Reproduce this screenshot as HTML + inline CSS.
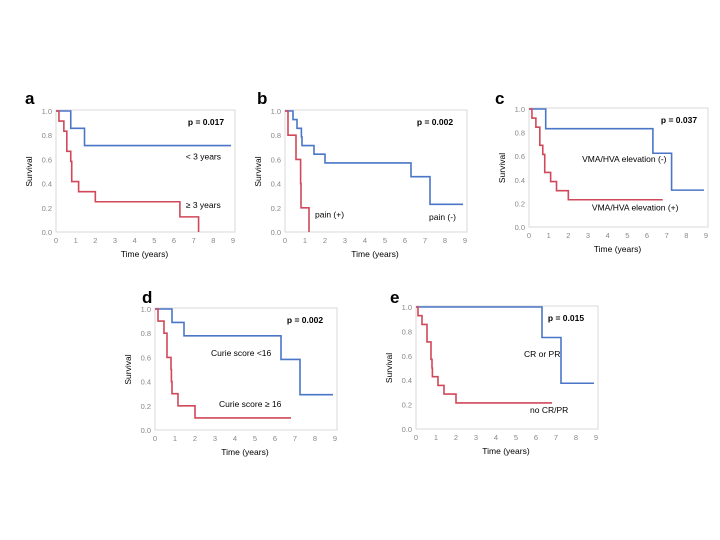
<!DOCTYPE html>
<html><head><meta charset="utf-8"><style>
html,body{margin:0;padding:0;background:#fff;}
svg{display:block;font-family:"Liberation Sans",sans-serif;}
</style></head><body>
<svg id="s" width="720" height="540" viewBox="0 0 720 540" xmlns="http://www.w3.org/2000/svg">
<text x="25" y="104" font-size="17" font-weight="bold">a</text>
<text x="257" y="104" font-size="17" font-weight="bold">b</text>
<text x="495" y="104" font-size="17" font-weight="bold">c</text>
<text x="142" y="303" font-size="17" font-weight="bold">d</text>
<text x="390" y="303" font-size="17" font-weight="bold">e</text>
</svg>
<script>
const NS="http://www.w3.org/2000/svg",S=document.getElementById('s');
function el(t,a,txt){const e=document.createElementNS(NS,t);for(const k in a)e.setAttribute(k,a[k]);if(txt!==undefined)e.textContent=txt;S.appendChild(e);return e;}
function panel(x0,x9,y1,y0,p,curves,labels){
  const X=t=>x0+(x9-x0)*t/9,Y=s=>y0-(y0-y1)*s;
  el('rect',{x:x0,y:y1-1,width:x9-x0+2,height:y0-y1+1,fill:'none',stroke:'#d8d8d8','stroke-width':1});
  for(let i=0;i<=9;i++)el('text',{x:X(i),y:y0+11,'font-size':7.5,fill:'#888','text-anchor':'middle'},i);
  for(let i=0;i<=5;i++)el('text',{x:x0-4,y:Y(i/5)+3,'font-size':7.5,fill:'#888','text-anchor':'end'},(i/5).toFixed(1));
  el('text',{x:(x0+x9)/2,y:y0+25,'font-size':8.5,'text-anchor':'middle'},'Time (years)');
  const yl=(x0-24),ym=(y0+y1)/2;
  el('text',{x:yl,y:ym,'font-size':8.5,'text-anchor':'middle',transform:`rotate(-90 ${yl} ${ym})`},'Survival');
  el('text',{x:x0+150,y:y1+14,'font-size':8.5,'font-weight':'bold','text-anchor':'middle'},p);
  for(const [col,pts,end] of curves){
    let d=`M${X(0)},${Y(1)}`,s=1;
    for(const [t,v] of pts){d+=` H${X(t)} V${Y(v)}`;s=v;}
    d+=` H${X(end)}`;
    el('path',{d,fill:'none',stroke:col,'stroke-width':1.6});
  }
  for(const [t,v,txt] of labels)el('text',{x:X(t),y:Y(v),'font-size':8.5},txt);
}
const B='#4a76c8',R='#d0485a';
panel(56,233,111,232,'p = 0.017',[
 [B,[[0.75,0.857],[1.45,0.714]],8.9],
 [R,[[0.15,0.917],[0.4,0.833],[0.55,0.667],[0.75,0.583],[0.8,0.417],[1.15,0.333],[2,0.25],[6.3,0.125],[7.25,0]],7.25]
],[[6.6,0.6,'< 3 years'],[6.6,0.2,'≥ 3 years']]);
panel(285,465,111,232,'p = 0.002',[
 [B,[[0.4,0.929],[0.6,0.857],[0.82,0.786],[0.85,0.714],[1.45,0.643],[2,0.571],[6.3,0.457],[7.25,0.229]],8.9],
 [R,[[0.15,0.8],[0.55,0.6],[0.78,0.4],[0.8,0.2],[1.2,0]],1.2]
],[[1.5,0.12,'pain (+)'],[7.2,0.1,'pain (-)']]);
panel(529,706,109,227,'p = 0.037',[
 [B,[[0.85,0.833],[6.3,0.625],[7.25,0.3125]],8.9],
 [R,[[0.15,0.923],[0.35,0.846],[0.55,0.692],[0.7,0.615],[0.8,0.462],[1.1,0.385],[1.4,0.308],[2,0.231]],6.8]
],[[2.7,0.55,'VMA/HVA elevation (-)'],[3.2,0.14,'VMA/HVA elevation (+)']]);
panel(155,335,309,430,'p = 0.002',[
 [B,[[0.85,0.889],[1.45,0.778],[6.3,0.583],[7.25,0.292]],8.9],
 [R,[[0.15,0.9],[0.45,0.8],[0.6,0.6],[0.8,0.5],[0.82,0.4],[0.85,0.3],[1.15,0.2],[2,0.1]],6.8]
],[[2.8,0.61,'Curie score <16'],[3.2,0.19,'Curie score ≥ 16']]);
panel(416,596,307,429,'p = 0.015',[
 [B,[[6.3,0.75],[7.25,0.375]],8.9],
 [R,[[0.1,0.929],[0.3,0.857],[0.55,0.714],[0.75,0.571],[0.8,0.5],[0.82,0.429],[1.1,0.357],[1.4,0.286],[2,0.214]],6.8]
],[[5.4,0.59,'CR or PR'],[5.7,0.13,'no CR/PR']]);
</script>
</body></html>
